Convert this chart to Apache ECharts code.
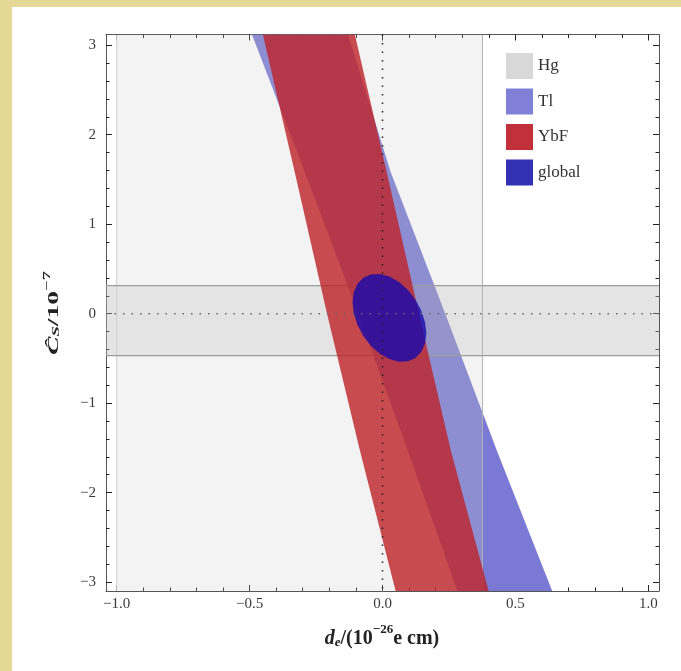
<!DOCTYPE html>
<html>
<head>
<meta charset="utf-8">
<script src="https://cdn.jsdelivr.net/npm/echarts@6/dist/echarts.min.js"></script>
<style>
  html, body { margin: 0; padding: 0; background: #fff; }
  #main { width: 681px; height: 671px; }
</style>
</head>
<body>
<div id="main"></div>
<script>
// plot range
var xRange = [-1.04, 1.04];
var yRange = [-3.1, 3.12];

// frame ticks
var xMajor = [-1, -0.5, 0, 0.5, 1];
var xMinor = [-0.9, -0.8, -0.7, -0.6, -0.4, -0.3, -0.2, -0.1, 0.1, 0.2, 0.3, 0.4, 0.6, 0.7, 0.8, 0.9];
var yMajor = [-3, -2, -1, 0, 1, 2, 3];
var yMinor = [-2.8, -2.6, -2.4, -2.2, -1.8, -1.6, -1.4, -1.2, -0.8, -0.6, -0.4, -0.2,
              0.2, 0.4, 0.6, 0.8, 1.2, 1.4, 1.6, 1.8, 2.2, 2.4, 2.6, 2.8];

// Hg: allowed d_e strip and C_S strip
var hgX = [-1.0, 0.376];
var hgY = [-0.47, 0.314];

// Tl band edges [d_e, C_S]
var tlLeft = [[-0.491, 3.12], [-0.292, 1.58], [-0.093, 0.015], [0.095, -1.53], [0.284, -3.12]];
var tlRight = [[-0.130, 3.12], [0.031, 1.58], [0.234, 0.015], [0.430, -1.53], [0.641, -3.12]];

// YbF band edges
var ybfLeft = [[-0.450, 3.12], [-0.330, 1.58], [-0.210, 0.015], [-0.085, -1.53], [0.051, -3.12]];
var ybfRight = [[-0.104, 3.12], [0.016, 1.58], [0.136, 0.015], [0.257, -1.53], [0.401, -3.12]];

// global fit contour
var globalEdge = [
  [0.165, -0.220], [0.160, -0.095], [0.146, 0.033], [0.124, 0.156], [0.096, 0.265], [0.062, 0.353],
  [0.026, 0.414], [-0.010, 0.443], [-0.044, 0.438], [-0.072, 0.401], [-0.094, 0.333], [-0.108, 0.239],
  [-0.113, 0.126], [-0.108, 0.001], [-0.094, -0.127], [-0.072, -0.250], [-0.044, -0.359], [-0.010, -0.447],
  [0.026, -0.508], [0.062, -0.537], [0.096, -0.532], [0.124, -0.495], [0.146, -0.427], [0.160, -0.334]
];

var legendNames = ['Hg', 'Tl', 'YbF', 'global'];
var xTitle = '{it|d}{sub|e}{b|/(10}{sup|\u221226}{b|e cm)}';
var yTitle = '{it|\u0108}{sub|S}{b|/10}{sup|\u22127}';

var serif = 'Liberation Serif';
var chart = echarts.init(document.getElementById('main'));

function fmtX(v) {
  return (v < 0 ? '\u2212' : '') + Math.abs(v).toFixed(1);
}
function fmtY(v) {
  return (v < 0 ? '\u2212' : '') + Math.abs(v).toFixed(0);
}

function titleRich(size) {
  var small = Math.round(size * 0.65);
  return {
    it: { fontFamily: serif, fontSize: size, fontWeight: 'bold', fontStyle: 'italic', fill: '#222', lineHeight: size * 1.3, verticalAlign: 'bottom' },
    sub: { fontFamily: serif, fontSize: small, fontWeight: 'bold', fontStyle: 'italic', fill: '#222', lineHeight: small * 1.2, verticalAlign: 'bottom' },
    b: { fontFamily: serif, fontSize: size, fontWeight: 'bold', fill: '#222', lineHeight: size * 1.3, verticalAlign: 'bottom' },
    sup: { fontFamily: serif, fontSize: small, fontWeight: 'bold', fill: '#222', lineHeight: small * 1.2, verticalAlign: 'top' }
  };
}

function makeAxis(pos, range, ticks, len, labels) {
  var ax = {
    type: 'value',
    min: range[0],
    max: range[1],
    position: pos,
    splitLine: { show: false },
    axisLine: { show: len > 4, onZero: false, lineStyle: { color: '#555', width: 1 } },
    axisTick: { show: true, inside: true, length: len, customValues: ticks, lineStyle: { color: '#222', width: 1 } },
    axisLabel: { show: false }
  };
  if (labels) {
    ax.axisLabel = {
      show: true,
      customValues: ticks,
      formatter: labels,
      fontFamily: serif,
      fontSize: 15,
      color: '#3a3a3a',
      margin: pos === 'left' ? 10 : 6
    };
  }
  return ax;
}

function band(left, right) {
  return left.concat(right.slice().reverse());
}

function polySeries(name, pts, fill, swatch, z) {
  return {
    name: name,
    type: 'custom',
    coordinateSystem: 'cartesian2d',
    xAxisIndex: 0,
    yAxisIndex: 0,
    clip: true,
    silent: true,
    z: z,
    itemStyle: { color: swatch },
    data: [[0, 0]],
    renderItem: function (params, api) {
      return {
        type: 'polygon',
        shape: { points: pts.map(function (p) { return api.coord(p); }) },
        style: { fill: fill }
      };
    }
  };
}

var hgSeries = {
  name: 'Hg',
  type: 'custom',
  coordinateSystem: 'cartesian2d',
  xAxisIndex: 0,
  yAxisIndex: 0,
  clip: true,
  silent: true,
  z: 3,
  itemStyle: { color: '#d8d8d8' },
  data: [[0, 0]],
  renderItem: function (params, api) {
    var vTop = api.coord([hgX[0], yRange[1]]);
    var vBot = api.coord([hgX[1], yRange[0]]);
    var hA = api.coord([xRange[0], hgY[1]]);
    var hB = api.coord([xRange[1], hgY[0]]);
    var vFill = 'rgba(204,204,204,0.24)';
    return {
      type: 'group',
      children: [
        { type: 'rect', shape: { x: hA[0], y: hA[1], width: hB[0] - hA[0], height: hB[1] - hA[1] },
          style: { fill: 'rgba(188,188,188,0.4)' } },
        { type: 'rect', shape: { x: vTop[0], y: vTop[1], width: vBot[0] - vTop[0], height: hA[1] - vTop[1] },
          style: { fill: vFill } },
        { type: 'rect', shape: { x: vTop[0], y: hB[1], width: vBot[0] - vTop[0], height: vBot[1] - hB[1] },
          style: { fill: vFill } },
        { type: 'line', shape: { x1: vTop[0], y1: vTop[1], x2: vTop[0], y2: vBot[1] },
          style: { stroke: '#cfcfcf', lineWidth: 1 } },
        { type: 'line', shape: { x1: vBot[0], y1: vTop[1], x2: vBot[0], y2: vBot[1] },
          style: { stroke: '#b2b2b2', lineWidth: 1 } },
        { type: 'line', shape: { x1: hA[0], y1: hA[1], x2: hB[0], y2: hA[1] },
          style: { stroke: '#9c9c9c', lineWidth: 1.2 } },
        { type: 'line', shape: { x1: hA[0], y1: hB[1], x2: hB[0], y2: hB[1] },
          style: { stroke: '#9c9c9c', lineWidth: 1.2 } }
      ]
    };
  }
};

var refLines = {
  type: 'custom',
  coordinateSystem: 'cartesian2d',
  xAxisIndex: 0,
  yAxisIndex: 0,
  clip: true,
  silent: true,
  z: 10,
  data: [[0, 0]],
  renderItem: function (params, api) {
    var a = api.coord([0, yRange[1]]), b = api.coord([0, yRange[0]]);
    var c = api.coord([xRange[0], 0]), d = api.coord([xRange[1], 0]);
    return {
      type: 'group',
      children: [
        { type: 'line', shape: { x1: a[0], y1: a[1], x2: b[0], y2: b[1] },
          style: { stroke: '#222', lineWidth: 1.5, lineDash: [1.5, 7] } },
        { type: 'line', shape: { x1: c[0], y1: c[1], x2: d[0], y2: d[1] },
          style: { stroke: '#666', lineWidth: 1.5, lineDash: [1.5, 7] } }
      ]
    };
  }
};

var option = {
  animation: false,
  backgroundColor: '#fff',
  graphic: [
    { type: 'rect', left: 0, top: 0, shape: { width: 681, height: 7 }, style: { fill: '#e5d796' } },
    { type: 'rect', left: 0, top: 0, shape: { width: 12, height: 671 }, style: { fill: '#e5d796' } },
    // axis titles (the source image is stretched along the y title)
    { type: 'text', x: 382, y: 636, silent: true,
      style: { text: xTitle, rich: titleRich(20), align: 'center', verticalAlign: 'middle' } },
    { type: 'text', x: 52, y: 313, rotation: Math.PI / 2, scaleX: 1.85, silent: true,
      style: { text: yTitle, rich: titleRich(15), align: 'center', verticalAlign: 'middle' } }
  ],
  grid: { left: 106, right: 22, top: 34.5, bottom: 80, containLabel: false },
  legend: {
    data: legendNames,
    orient: 'vertical',
    left: 506,
    top: 53,
    padding: 0,
    icon: 'rect',
    itemWidth: 27,
    itemHeight: 26,
    itemGap: 9.5,
    selectedMode: false,
    textStyle: { fontFamily: serif, fontSize: 17, color: '#333' }
  },
  xAxis: [
    makeAxis('bottom', xRange, xMajor, 6, fmtX),
    makeAxis('bottom', xRange, xMinor, 3.5, null),
    makeAxis('top', xRange, xMajor, 6, null),
    makeAxis('top', xRange, xMinor, 3.5, null)
  ],
  yAxis: [
    makeAxis('left', yRange, yMajor, 6, fmtY),
    makeAxis('left', yRange, yMinor, 3.5, null),
    makeAxis('right', yRange, yMajor, 6, null),
    makeAxis('right', yRange, yMinor, 3.5, null)
  ],
  series: [
    polySeries('Tl', band(tlLeft, tlRight), '#7a7ad4', '#8080d8', 2),
    hgSeries,
    polySeries('YbF', band(ybfLeft, ybfRight), 'rgba(190,36,42,0.81)', '#c2303a', 4),
    polySeries('global', globalEdge, 'rgba(25,10,170,0.82)', '#3531b4', 5),
    refLines
  ]
};

chart.setOption(option);
</script>
</body>
</html>
